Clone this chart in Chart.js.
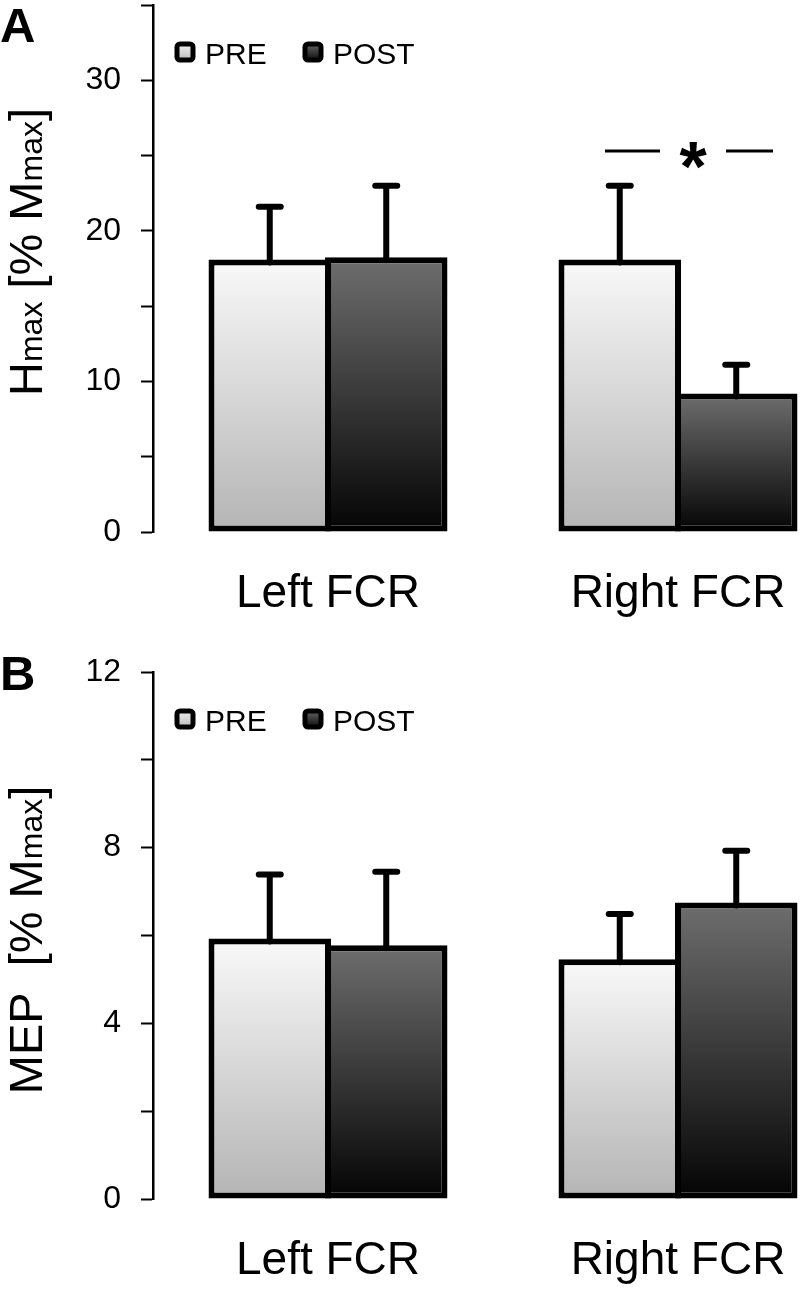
<!DOCTYPE html>
<html>
<head>
<meta charset="utf-8">
<script src="https://cdn.jsdelivr.net/npm/chart.js@4.4.0/dist/chart.umd.min.js"></script>
<style>
html, body { margin: 0; padding: 0; background: #fff; overflow: hidden; width: 800px; height: 1290px; }
.painel { position: absolute; left: 0; width: 853px; }
#painelA { top: 0; height: 640px; }
#painelB { top: 640px; height: 650px; }
</style>
</head>
<body>
<div class="painel" id="painelA"><canvas id="hmax"></canvas></div>
<div class="painel" id="painelB"><canvas id="mep"></canvas></div>
<script>
const musculos = ['Left FCR', 'Right FCR'];
const grupos = ['PRE', 'POST'];

// painel A: Hmax [% Mmax]
const hmaxPre = [18.1, 18.1];
const hmaxPost = [18.25, 9.2];
const hmaxPreSd = [3.5, 4.9];
const hmaxPostSd = [4.75, 1.9];
const hmaxTicks = [0, 10, 20, 30];

// painel B: MEP [% Mmax]
const mepPre = [5.93, 5.46];
const mepPost = [5.78, 6.75];
const mepPreSd = [1.46, 1.03];
const mepPostSd = [1.67, 1.18];
const mepTicks = [0, 4, 8, 12];

const FONTE = "'Liberation Sans', Arial, sans-serif";
Chart.defaults.font.family = FONTE;
Chart.defaults.color = '#000';

const CORES = {
    PRE: ['#f9f9f9', '#b4b4b4'],
    POST: ['#6e6e6e', '#040404']
};

const gradiente = (claro, escuro) => ctx => {
    const chart = ctx.chart, y = chart.scales && chart.scales.y;
    if (!y || ctx.type !== 'data') return claro;
    const topo = y.getPixelForValue(ctx.raw), base = y.getPixelForValue(0);
    if (!isFinite(topo) || !isFinite(base)) return claro;
    const g = chart.ctx.createLinearGradient(0, topo, 0, base);
    g.addColorStop(0, claro);
    g.addColorStop(1, escuro);
    return g;
};

const barrasErro = {
    id: 'barrasErro',
    afterDatasetsDraw(chart) {
        const { ctx, scales: { y } } = chart;
        ctx.save();
        ctx.strokeStyle = '#000';
        ctx.lineWidth = 6;
        ctx.lineCap = 'round';
        chart.data.datasets.forEach((ds, di) => {
            chart.getDatasetMeta(di).data.forEach((bar, i) => {
                const topo = y.getPixelForValue(ds.data[i] + ds.erro[i]);
                ctx.beginPath();
                ctx.moveTo(bar.x, bar.y + 3);
                ctx.lineTo(bar.x, topo);
                ctx.moveTo(bar.x - 11, topo);
                ctx.lineTo(bar.x + 11, topo);
                ctx.stroke();
            });
        });
        ctx.restore();
    }
};

const rotulos = {
    id: 'rotulos',
    afterDraw(chart, args, opts) {
        const { ctx, chartArea, scales: { y } } = chart;
        ctx.save();
        ctx.fillStyle = '#000';

        // letra do painel
        ctx.font = `bold 49px ${FONTE}`;
        ctx.textAlign = 'left';
        ctx.textBaseline = 'alphabetic';
        ctx.fillText(opts.letra, 0, opts.letraY);

        // titulo do eixo y (com "max" menor)
        ctx.save();
        ctx.translate(42, opts.tituloY);
        ctx.rotate(-Math.PI / 2);
        let total = 0;
        opts.titulo.forEach(([t, s]) => { ctx.font = `${s}px ${FONTE}`; total += ctx.measureText(t).width; });
        let x = -total / 2;
        opts.titulo.forEach(([t, s]) => {
            ctx.font = `${s}px ${FONTE}`;
            ctx.fillText(t, x, 0);
            x += ctx.measureText(t).width;
        });
        ctx.restore();

        // legenda
        const topo = chartArea.top + 37;
        const caixas = [175, 303];
        chart.data.datasets.forEach((ds, i) => {
            const bx = caixas[i];
            const g = ctx.createLinearGradient(0, topo, 0, topo + 20);
            g.addColorStop(0, CORES[ds.label][0]);
            g.addColorStop(1, CORES[ds.label][1]);
            ctx.beginPath();
            ctx.roundRect(bx + 2, topo + 2, 16, 16, 3);
            ctx.fillStyle = g;
            ctx.fill();
            ctx.lineWidth = 5;
            ctx.strokeStyle = '#000';
            ctx.stroke();
            ctx.fillStyle = '#000';
            ctx.font = `30px ${FONTE}`;
            ctx.fillText(ds.label, bx + 30, topo + 22);
        });

        // significancia
        const sig = opts.significancia;
        if (sig) {
            const m0 = chart.getDatasetMeta(0).data[sig.indice];
            const m1 = chart.getDatasetMeta(1).data[sig.indice];
            const cx = (m0.x + m1.x) / 2 + 15;
            const yy = y.getPixelForValue(sig.valor);
            ctx.lineWidth = 3;
            ctx.beginPath();
            ctx.moveTo(cx - 88, yy); ctx.lineTo(cx - 33, yy);
            ctx.moveTo(cx + 33, yy); ctx.lineTo(cx + 80, yy);
            ctx.stroke();
            ctx.font = `bold 70px ${FONTE}`;
            ctx.textAlign = 'center';
            ctx.fillText(sig.texto, cx, yy + 40);
        }
        ctx.restore();
    }
};

function montarPainel(id, pre, post, preSd, postSd, cfg) {
    return new Chart(document.getElementById(id), {
        type: 'bar',
        data: {
            labels: musculos,
            datasets: [
                { label: grupos[0], data: pre, erro: preSd, backgroundColor: gradiente(...CORES.PRE) },
                { label: grupos[1], data: post, erro: postSd, backgroundColor: gradiente(...CORES.POST) }
            ]
        },
        options: {
            responsive: true,
            maintainAspectRatio: false,
            animation: false,
            events: [],
            layout: { padding: { top: cfg.topo, right: 0, left: 0, bottom: 0 } },
            datasets: {
                bar: {
                    borderColor: '#000',
                    borderWidth: 6,
                    borderSkipped: false,
                    categoryPercentage: 0.6657,
                    barPercentage: 1.0515
                }
            },
            scales: {
                x: {
                    grid: { display: false, drawTicks: false },
                    border: { display: false },
                    ticks: { font: { size: 46 }, color: '#000', padding: cfg.padX },
                    afterFit: s => { s.height = cfg.alturaX; s.paddingLeft = 0; s.paddingRight = 0; }
                },
                y: {
                    min: 0,
                    max: cfg.max,
                    border: { display: true, color: '#000', width: 2.5 },
                    grid: { drawOnChartArea: false, drawTicks: true, tickLength: 12, tickWidth: 2, tickColor: '#000' },
                    ticks: {
                        stepSize: cfg.passo,
                        padding: 20,
                        font: { size: 32 },
                        color: '#000',
                        callback: v => cfg.rotulosY.includes(v) ? String(v) : ''
                    },
                    afterFit: s => { s.width = 153; s.paddingTop = 0; s.paddingBottom = 0; }
                }
            },
            plugins: {
                legend: { display: false },
                tooltip: { enabled: false },
                rotulos: cfg.rotulos
            }
        },
        plugins: [barrasErro, rotulos]
    });
}

montarPainel('hmax', hmaxPre, hmaxPost, hmaxPreSd, hmaxPostSd, {
    topo: 5, max: 35, passo: 5, rotulosY: hmaxTicks, alturaX: 108, padX: 35,
    rotulos: {
        letra: 'A', letraY: 42, tituloY: 252,
        titulo: [['H', 47], ['max', 32], [' [% ', 47], ['M', 47], ['max', 32], [']', 47]],
        significancia: { indice: 1, valor: 25.3, texto: '*' }
    }
});

montarPainel('mep', mepPre, mepPost, mepPreSd, mepPostSd, {
    topo: 32, max: 12, passo: 2, rotulosY: mepTicks, alturaX: 91, padX: 35,
    rotulos: {
        letra: 'B', letraY: 50, tituloY: 300,
        titulo: [['MEP  [% ', 47], ['M', 47], ['max', 32], [']', 47]]
    }
});
</script>
</body>
</html>
